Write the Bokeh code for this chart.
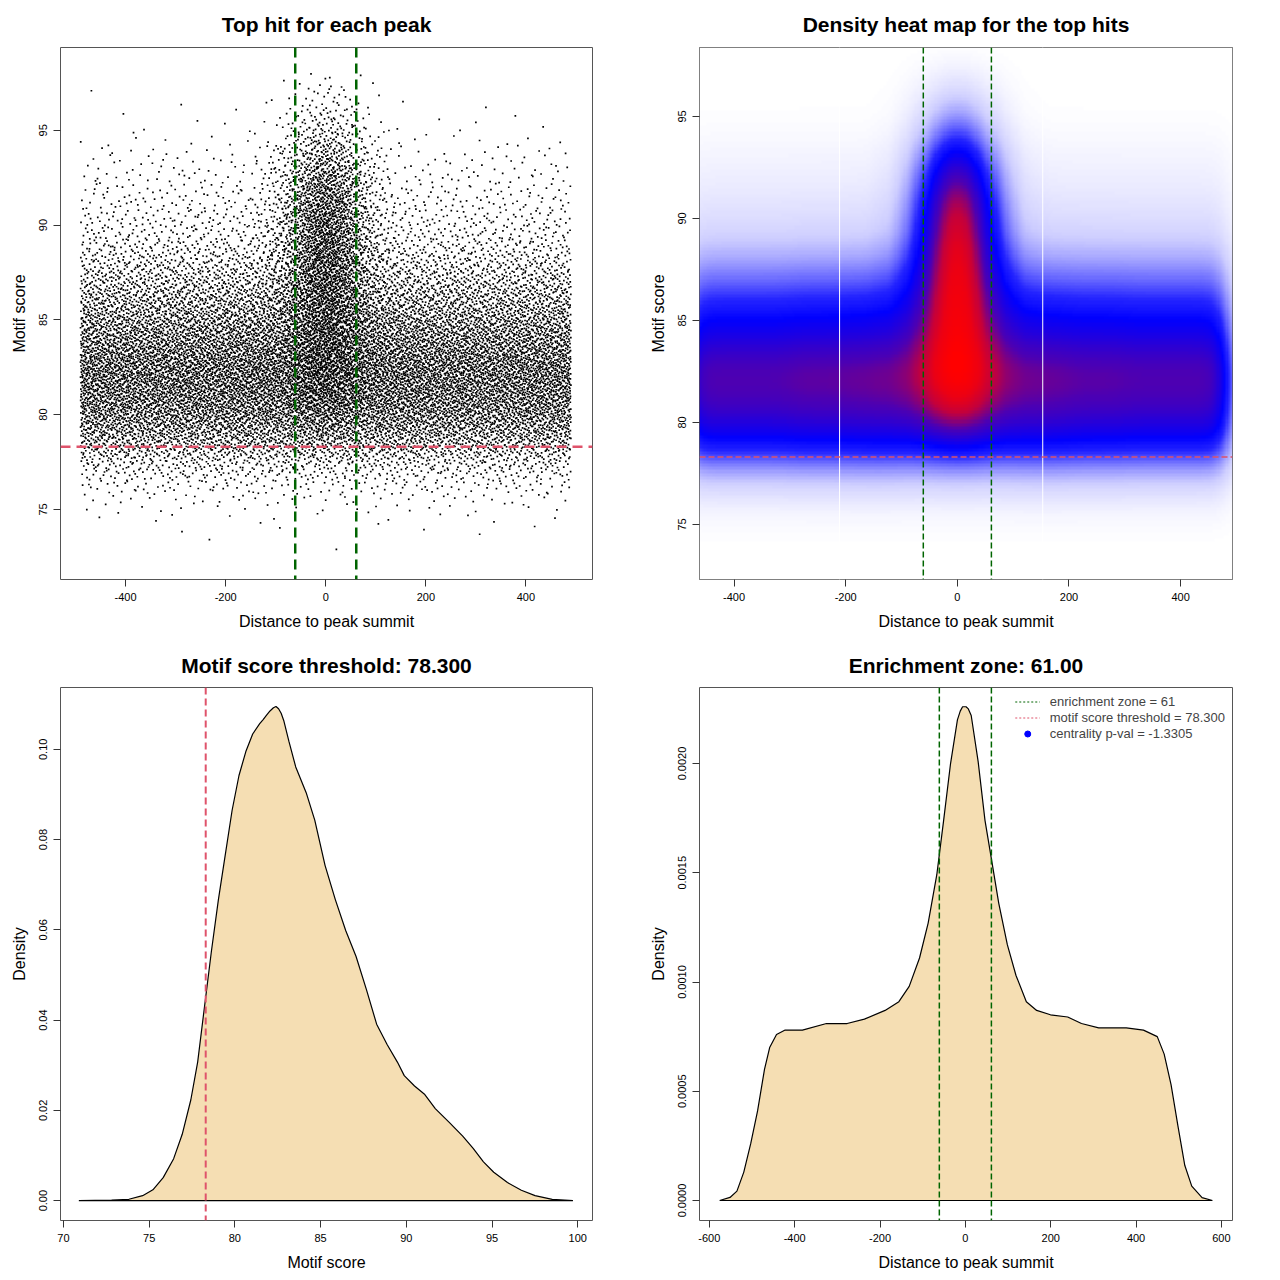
import math
import numpy as np
from bokeh.plotting import figure
from bokeh.layouts import column, row
from bokeh.models import (Range1d, FixedTicker, PrintfTickFormatter, Span, Legend,
                          LegendItem, ColumnDataSource, LinearColorMapper)
from bokeh.embed import file_html
from bokeh.resources import INLINE

# ---------------- data ----------------
enrichment_zone = 61
score_threshold = 78.3
centrality_pval = -1.3305

# score bins (lower edge, 1 unit wide) for the scatter of top hits
score_bin_start = [72, 73, 74, 75, 76, 77, 78, 79, 80, 81, 82, 83, 84,
                   85, 86, 87, 88, 89, 90, 91, 92, 93, 94, 95, 96, 97]
# background hits (spread over all distances) per score bin
background_counts = [1, 2, 18, 70, 220, 515, 1040, 1510, 1830, 1980, 2010, 1770, 1510,
                     1200, 930, 670, 450, 290, 220, 150, 110, 70, 30, 10, 5, 3]
# centrally enriched hits per score bin
central_counts = [0, 0, 0, 0, 0, 5, 20, 50, 90, 120, 150, 170, 190,
                  220, 250, 270, 290, 290, 280, 250, 210, 150, 100, 60, 30, 12]
# background distance bins and relative density
background_dist_edges = [-490, -400, -300, -200, -100, 0, 100, 200, 300, 400, 490]
background_dist_density = [1.0, 1.0, 1.03, 1.05, 1.0, 1.0, 1.05, 1.02, 1.0, 1.0]
# central distance bins and share of central hits
central_dist_edges = [-150, -110, -80, -50, -25, 0, 25, 50, 80, 110, 150]
central_dist_share = [0.01, 0.04, 0.10, 0.15, 0.20, 0.20, 0.15, 0.10, 0.04, 0.01]

# density of motif score (bottom-left)
score_x = [70.90, 72.81, 73.82, 74.62, 75.22, 75.82, 76.43, 76.93, 77.43, 77.83, 78.23,
           78.63, 79.04, 79.44, 79.84, 80.24, 80.64, 81.04, 81.45, 81.65, 81.85, 82.05,
           82.25, 82.40, 82.55, 82.70, 82.85, 83.15, 83.55, 84.16, 84.66, 85.26, 85.86,
           86.47, 87.07, 87.67, 88.27, 88.88, 89.48, 89.88, 90.48, 91.08, 91.69, 92.49,
           93.29, 93.90, 94.50, 95.10, 95.90, 96.71, 97.51, 98.51, 99.72]
score_density = [0.0, 0.0001, 0.0003, 0.0011, 0.0024, 0.0051, 0.0093, 0.0147, 0.0223, 0.0307,
                 0.0430, 0.0552, 0.0667, 0.0766, 0.0865, 0.0942, 0.0995, 0.1034, 0.1057,
                 0.1066, 0.1076, 0.1085, 0.1092, 0.1095, 0.1090, 0.1080, 0.1064, 0.1018,
                 0.0961, 0.0904, 0.0843, 0.0743, 0.0667, 0.0598, 0.0541, 0.0468, 0.0391,
                 0.0346, 0.0307, 0.0277, 0.0254, 0.0235, 0.0204, 0.0174, 0.0143, 0.0116,
                 0.0086, 0.0063, 0.0040, 0.0023, 0.0011, 0.0003, 0.0]

# density of distance to summit (bottom-right)
dist_x = [-575.7, -551.5, -535.3, -519.2, -503.0, -486.9, -470.7, -458.6, -442.5, -422.3,
          -381.9, -325.4, -277.0, -236.6, -188.1, -155.8, -131.6, -107.4, -87.2, -67.0,
          -50.9, -34.7, -18.6, -12.0, -6.5, 1.6, 7.0, 13.7, 29.9, 46.0, 62.2, 78.3, 98.5,
          118.7, 142.9, 167.1, 199.4, 239.8, 272.1, 312.5, 344.8, 377.1, 417.4, 449.7,
          465.9, 482.0, 498.2, 514.3, 530.5, 554.7, 578.9]
dist_density = [0.0, 0.000014, 0.000043, 0.00013, 0.00026, 0.00041, 0.00060, 0.00070, 0.00076,
                0.00078, 0.00078, 0.00081, 0.00081, 0.00083, 0.00087, 0.00091, 0.00098,
                0.00111, 0.00127, 0.00149, 0.00174, 0.00200, 0.00220, 0.00224, 0.00226,
                0.00226, 0.00225, 0.00222, 0.00201, 0.00174, 0.00155, 0.00136, 0.00117,
                0.00103, 0.00091, 0.00087, 0.00085, 0.00084, 0.00081, 0.00079, 0.00079,
                0.00079, 0.00078, 0.00075, 0.00067, 0.00053, 0.00034, 0.00016, 0.000066,
                0.000013, 0.0]

heatmap_seams = [-211, 153]
# tone curve of the heat map (relative density -> colour position)
heat_level = [0.0, 0.07, 0.12, 0.18, 0.26, 0.34, 0.43, 0.53, 0.63, 0.78, 0.89, 1.0]
heat_tone = [0.0, 0.06, 0.10, 0.18, 0.30, 0.43, 0.50, 0.57, 0.65, 0.88, 0.96, 1.0]

FONT = "Liberation Sans"
RED = "#DF536B"
GREEN = "#006400"

# ---------------- helpers ----------------
def styled(title, xr, yr, xticks, yticks, xfmt, yfmt, xlabel, ylabel,
           fw, fh, bl, br, bt, bb, standoff):
    p = figure(frame_width=fw, frame_height=fh,
               x_range=Range1d(*xr), y_range=Range1d(*yr),
               output_backend="svg", toolbar_location=None,
               min_border_left=bl, min_border_right=br,
               min_border_top=bt, min_border_bottom=bb,
               background_fill_color="white", border_fill_color="white")
    p.title.text = title
    p.title.align = "center"
    p.title.vertical_align = "middle"
    p.title.text_font = FONT
    p.title.text_font_size = "21px"
    p.title.text_font_style = "bold"
    p.title.text_color = "black"
    p.title.standoff = standoff
    p.xgrid.visible = False
    p.ygrid.visible = False
    p.outline_line_color = "#555555"
    p.outline_line_width = 1
    p.xaxis.ticker = FixedTicker(ticks=xticks, minor_ticks=[])
    p.yaxis.ticker = FixedTicker(ticks=yticks, minor_ticks=[])
    p.xaxis.formatter = PrintfTickFormatter(format=xfmt)
    p.yaxis.formatter = PrintfTickFormatter(format=yfmt)
    p.xaxis.axis_label = xlabel
    p.yaxis.axis_label = ylabel
    p.yaxis.major_label_orientation = "vertical"
    for ax in (p.xaxis, p.yaxis):
        ax.axis_line_color = None
        ax.major_tick_out = 7
        ax.major_tick_in = 0
        ax.minor_tick_out = 0
        ax.major_tick_line_color = "#333333"
        ax.major_label_text_font = FONT
        ax.major_label_text_font_size = "11px"
        ax.major_label_text_color = "black"
        ax.major_label_standoff = 6
        ax.axis_label_text_font = FONT
        ax.axis_label_text_font_size = "16px"
        ax.axis_label_text_font_style = "normal"
        ax.axis_label_text_color = "black"
        ax.axis_label_standoff = 9
    return p


def vline(p, x, color, width, dash):
    p.add_layout(Span(location=x, dimension="height", line_color=color,
                      line_width=width, line_dash=dash))


def hline(p, y, color, width, dash):
    p.add_layout(Span(location=y, dimension="width", line_color=color,
                      line_width=width, line_dash=dash))


def inv_cdf(u, grid, dens):
    cdf = np.concatenate([[0.0], np.cumsum((dens[1:] + dens[:-1]) * 0.5 * np.diff(grid))])
    cdf /= cdf[-1]
    return np.interp(u, cdf, grid)


def step_density(grid, edges, masses):
    out = np.zeros_like(grid)
    for i in range(len(masses)):
        m = (grid >= edges[i]) & (grid <= edges[i + 1])
        out[m] = masses[i] / (edges[i + 1] - edges[i])
    return out


def linear_density(grid, edges, masses):
    centers = [(edges[i] + edges[i + 1]) / 2 for i in range(len(masses))]
    dens = [masses[i] / (edges[i + 1] - edges[i]) for i in range(len(masses))]
    return np.interp(grid, [edges[0]] + centers + [edges[-1]],
                     [dens[0] * 0.5] + dens + [dens[-1] * 0.5])


def radical_inverse(idx, base):
    i = idx.copy()
    f = np.ones(len(idx))
    r = np.zeros(len(idx))
    while np.any(i > 0):
        f /= base
        r += f * (i % base)
        i //= base
    return r


score_edges = score_bin_start + [score_bin_start[-1] + 1]
bg_x_mass = [(background_dist_edges[i + 1] - background_dist_edges[i]) * background_dist_density[i]
             for i in range(len(background_dist_density))]

# ---------------- 1. scatter ----------------
ygrid = np.linspace(score_edges[0], score_edges[-1], 4001)


def hits(counts, dist_edges, dist_mass, x_kind, start):
    n = int(sum(counts))
    idx = np.arange(start + 1, start + n + 1)
    u1 = radical_inverse(idx, 2)
    u2 = radical_inverse(idx, 3)
    xgrid = np.linspace(dist_edges[0], dist_edges[-1], 4001)
    xd = step_density(xgrid, dist_edges, dist_mass) if x_kind == "step" else \
        linear_density(xgrid, dist_edges, dist_mass)
    yd = linear_density(ygrid, score_edges, counts)
    return inv_cdf(u1, xgrid, xd), inv_cdf(u2, ygrid, yd), start + n


bx, by, k = hits(background_counts, background_dist_edges, bg_x_mass, "step", 0)
cxs, cys, k = hits(central_counts, central_dist_edges, central_dist_share, "linear", k)
xs = np.concatenate([bx, cxs])
ys = np.concatenate([by, cys])

p1 = styled("Top hit for each peak", (-530, 533), (71.3, 99.37),
            [-400, -200, 0, 200, 400], [75, 80, 85, 90, 95], "%d", "%d",
            "Distance to peak summit", "Motif score",
            532, 532, 60, 48, 47, 61, 22)
p1.scatter(xs, ys, marker="square", size=1.7, fill_color="black", line_color=None)
vline(p1, -enrichment_zone, GREEN, 2.5, "10 6")
vline(p1, enrichment_zone, GREEN, 2.5, "10 6")
hline(p1, score_threshold, RED, 2.5, "10 6")

# ---------------- 2. heat map ----------------
hx0, hx1, hy0, hy1 = -462.0, 493.0, 72.3, 98.38
nx, ny = 240, 170
gx = np.linspace(hx0, hx1, nx)
gy = np.linspace(hy0, hy1, ny)
verf = np.vectorize(math.erf)


def smooth_profile(grid, edges, masses, h):
    out = np.zeros_like(grid)
    tot = float(sum(masses))
    for i in range(len(masses)):
        lo, hi = edges[i], edges[i + 1]
        d = masses[i] / (hi - lo)
        out += d * 0.5 * (verf((grid - lo) / (h * math.sqrt(2))) -
                          verf((grid - hi) / (h * math.sqrt(2))))
    return out / tot


bgx = smooth_profile(gx, background_dist_edges, bg_x_mass, 20)
cx = smooth_profile(gx, central_dist_edges, central_dist_share, 12)
bgy = smooth_profile(gy, score_edges, background_counts, 0.6) * sum(background_counts)
cy = smooth_profile(gy, score_edges, central_counts, 0.6) * sum(central_counts)
dens = np.outer(bgy, bgx) + np.outer(cy, cx)
dens = np.interp(dens / dens.max(), heat_level, heat_tone)

pal = []
for t in np.linspace(0, 1, 256):
    if t <= 0.5:
        u = t / 0.5
        r, g, b = 255 * (1 - u), 255 * (1 - u), 255
    else:
        u = (t - 0.5) / 0.5
        r, g, b = 255 * u, 0, 255 * (1 - u)
    pal.append("#%02x%02x%02x" % (int(round(r)), int(round(g)), int(round(b))))

p2 = styled("Density heat map for the top hits", (hx0, hx1), (hy0, hy1),
            [-400, -200, 0, 200, 400], [75, 80, 85, 90, 95], "%d", "%d",
            "Distance to peak summit", "Motif score",
            533, 532, 59, 48, 47, 61, 22)
p2.image(image=[dens], x=hx0, y=hy0, dw=hx1 - hx0, dh=hy1 - hy0,
         color_mapper=LinearColorMapper(palette=pal, low=0, high=1))
for s in heatmap_seams:
    vline(p2, s, "white", 1, "solid")
vline(p2, -enrichment_zone, GREEN, 1.5, "6 3")
vline(p2, enrichment_zone, GREEN, 1.5, "6 3")
hline(p2, score_threshold, RED, 1.5, "6 3")

# ---------------- 3. motif score density ----------------
p3 = styled("Motif score threshold: %.3f" % score_threshold, (69.83, 100.86), (-0.0044, 0.1137),
            [70, 75, 80, 85, 90, 95, 100], [0.0, 0.02, 0.04, 0.06, 0.08, 0.10], "%d", "%.2f",
            "Motif score", "Density",
            532, 533, 60, 48, 47, 60, 20)
p3.patch(score_x, score_density, fill_color="#F5DEB3", line_color="black", line_width=1.2)
vline(p3, score_threshold, RED, 2, "7 4")

# ---------------- 4. distance density ----------------
p4 = styled("Enrichment zone: %.2f" % enrichment_zone, (-623, 626), (-0.0000915, 0.002348),
            [-600, -400, -200, 0, 200, 400, 600], [0.0, 0.0005, 0.0010, 0.0015, 0.0020],
            "%d", "%.4f", "Distance to peak summit", "Density",
            533, 533, 59, 48, 47, 60, 20)
p4.patch(dist_x, dist_density, fill_color="#F5DEB3", line_color="black", line_width=1.2)
vline(p4, -enrichment_zone, GREEN, 1.5, "6 3")
vline(p4, enrichment_zone, GREEN, 1.5, "6 3")

legend_src = ColumnDataSource(dict(x=[float("nan")], y=[float("nan")]))
r_g = p4.line("x", "y", source=legend_src, line_color=GREEN, line_dash="2 2", line_width=1)
r_r = p4.line("x", "y", source=legend_src, line_color=RED, line_dash="2 2", line_width=1)
r_b = p4.scatter("x", "y", source=legend_src, marker="circle", size=6,
                 fill_color="blue", line_color="blue")
legend = Legend(items=[
    LegendItem(label="enrichment zone = %d" % enrichment_zone, renderers=[r_g]),
    LegendItem(label="motif score threshold = %.3f" % score_threshold, renderers=[r_r]),
    LegendItem(label="centrality p-val = %.4f" % centrality_pval, renderers=[r_b]),
], location="top_right")
legend.background_fill_alpha = 0
legend.border_line_alpha = 0
legend.label_text_font = FONT
legend.label_text_font_size = "13px"
legend.glyph_width = 25
legend.glyph_height = 15
legend.label_height = 15
legend.label_standoff = 10
legend.spacing = 1
legend.padding = 5
legend.margin = 2
p4.add_layout(legend)

layout = column(row(p1, p2), row(p3, p4))
open("out.html", "w").write(file_html(layout, INLINE))
